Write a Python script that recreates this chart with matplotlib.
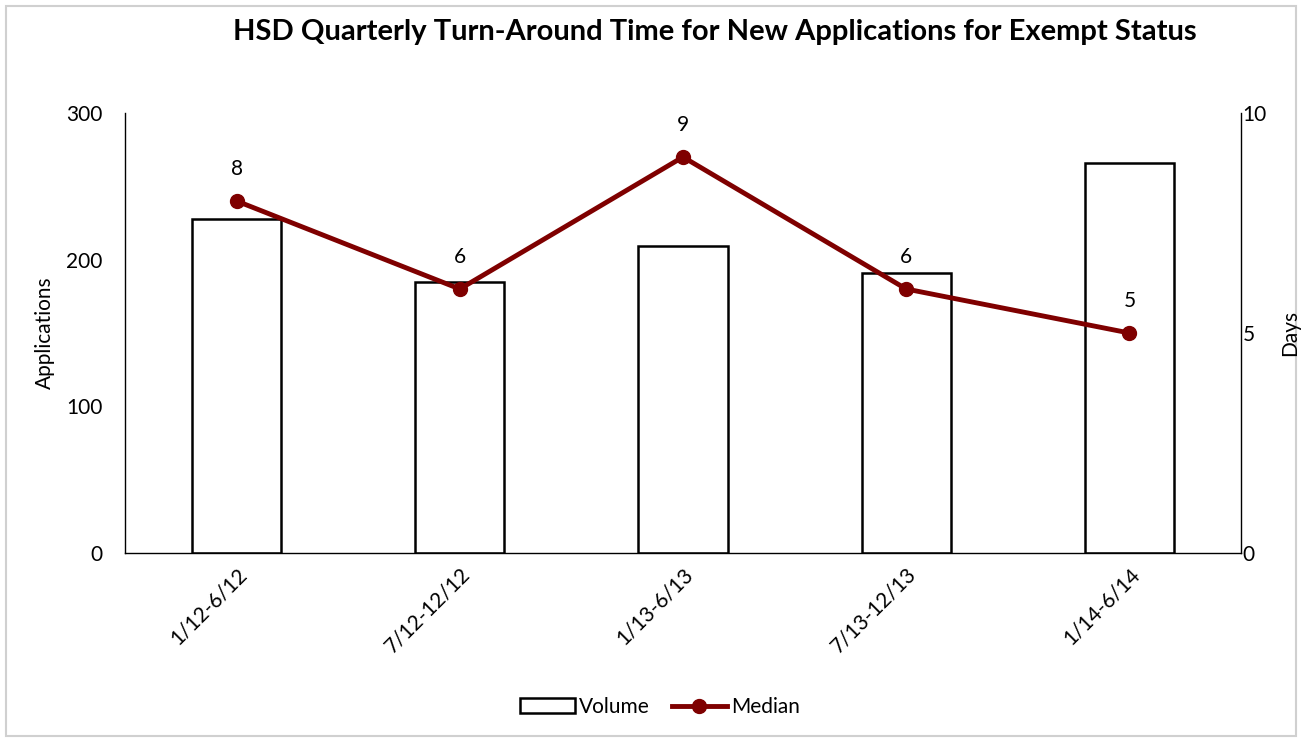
import matplotlib
matplotlib.use("Agg")
import matplotlib.pyplot as plt
from matplotlib.lines import Line2D
from matplotlib.patches import Patch, Rectangle

categories = ["1/12-6/12", "7/12-12/12", "1/13-6/13", "7/13-12/13", "1/14-6/14"]
volume = [228, 185, 209, 191, 266]
median = [8, 6, 9, 6, 5]
left_ticks = [0, 100, 200, 300]
right_ticks = [0, 5, 10]

plt.rcParams['font.family'] = ['Lato', 'DejaVu Sans']
W, H = 1305, 742
fig = plt.figure(figsize=(W / 100, H / 100), dpi=100)
fig.patches.append(Rectangle((6 / W, 1 - 736 / H), 1290 / W, 730 / H, transform=fig.transFigure,
                             fill=False, edgecolor='#d0d0d0', linewidth=1.5))

ax = fig.add_axes([125 / W, 1 - 553 / H, 1116 / W, 440 / H])
x = list(range(len(categories)))
ax.bar(x, volume, width=0.4, facecolor='white', edgecolor='black', linewidth=1.8, zorder=2)
ax.set_xlim(-0.5, len(categories) - 0.5)
ax.set_ylim(0, 300)
ax.set_yticks(left_ticks)
ax.tick_params(axis='y', length=0, labelsize=15, pad=16)
ax.tick_params(axis='x', length=0, labelsize=15, pad=8)
ax.set_xticks(x)
ax.set_xticklabels(categories, rotation=45, ha='right', rotation_mode='anchor')
ax.spines['top'].set_visible(False)
ax.spines['right'].set_visible(False)
ax.spines['left'].set_linewidth(1.0)
ax.spines['bottom'].set_linewidth(1.0)

ax2 = ax.twinx()
ax2.plot(x, median, color='#7f0000', linewidth=3.5, marker='o', markersize=10, zorder=3)
ax2.set_ylim(0, 10)
ax2.set_yticks(right_ticks)
ax2.tick_params(axis='y', length=0, labelsize=15, pad=1)
ax2.spines['top'].set_visible(False)
ax2.spines['left'].set_visible(False)
ax2.spines['bottom'].set_visible(False)
ax2.spines['right'].set_linewidth(1.0)
for xi, m in zip(x, median):
    ax2.annotate(str(m), (xi, m), xytext=(0, 23), textcoords='offset points',
                 ha='center', va='center', fontsize=15)

fig.text(45 / W, 1 - 333 / H, "Applications", rotation=90, ha='center', va='center', fontsize=15)
fig.text(1290 / W, 1 - 333 / H, "Days", rotation=90, ha='center', va='center', fontsize=15)

fig.text(715 / W, 1 - 32 / H, "HSD Quarterly Turn-Around Time for New Applications for Exempt Status",
         ha='center', va='center', fontsize=21, fontweight='bold')

handles = [Patch(facecolor='white', edgecolor='black', linewidth=1.8, label='Volume'),
           Line2D([0], [0], color='#7f0000', linewidth=3.5, marker='o', markersize=10, label='Median')]
fig.legend(handles=handles, loc='center', bbox_to_anchor=(660 / W, 1 - 707 / H), ncol=2,
           frameon=False, fontsize=15, handlelength=2.6, handletextpad=0.2, columnspacing=1.1)

fig.savefig("out.png", dpi=100)
